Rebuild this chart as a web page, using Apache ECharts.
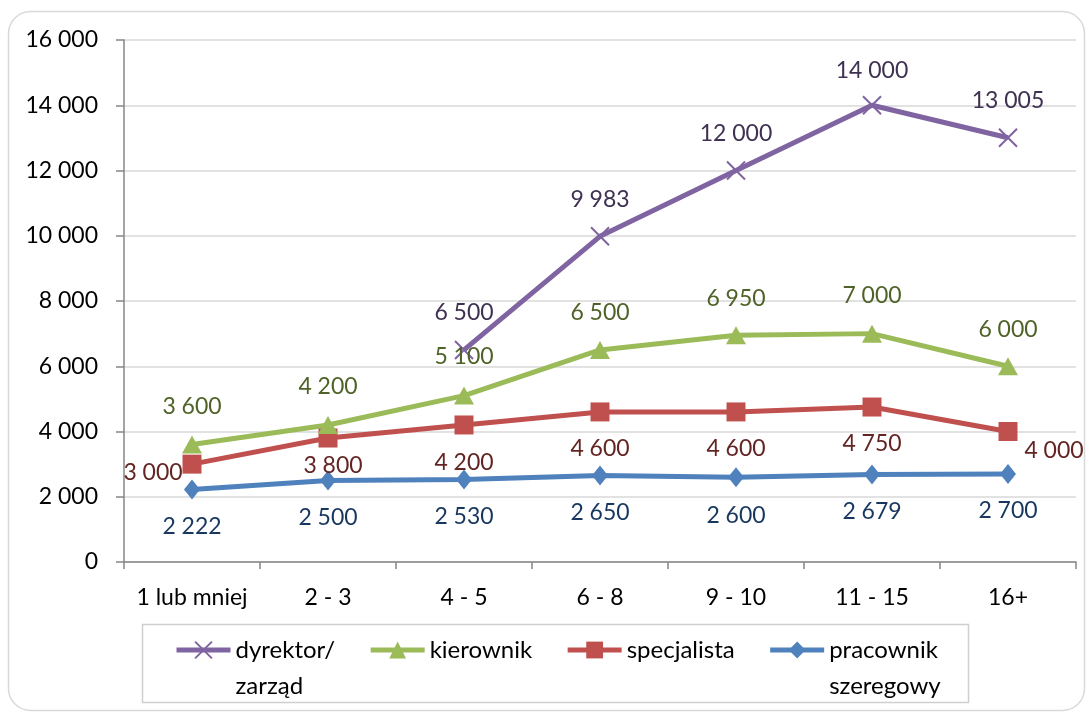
<!DOCTYPE html>
<html>
<head>
<meta charset="utf-8">
<script src="https://cdn.jsdelivr.net/npm/echarts@6/dist/echarts.min.js"></script>
<style>
html,body{margin:0;padding:0;background:#fff;}
#chart{width:1092px;height:716px;}
</style>
</head>
<body>
<div id="chart"></div>
<script>
const categories = ['1 lub mniej', '2 - 3', '4 - 5', '6 - 8', '9 - 10', '11 - 15', '16+'];
const seriesNames = ['dyrektor/ zarząd', 'kierownik', 'specjalista', 'pracownik szeregowy'];
const dyrektor = [null, null, 6500, 9983, 12000, 14000, 13005];
const kierownik = [3600, 4200, 5100, 6500, 6950, 7000, 6000];
const specjalista = [3000, 3800, 4200, 4600, 4600, 4750, 4000];
const pracownik = [2222, 2500, 2530, 2650, 2600, 2679, 2700];

// label offsets (style only)
const offDyr = [[0,-37],[0,-37],[0,-37],[0,-37],[0,-37],[0,-35],[0,-37]];
const offKier = [[0,-38],[0,-38],[0,-39],[0,-37],[0,-37],[0,-38],[0,-37]];
const offSpec = [[-39,8],[5,28],[0,38],[0,37],[0,37],[0,37],[46,19]];
const offPrac = [[0,37],[0,37],[0,37],[0,37],[0,38],[0,37],[0,37]];

const FONT = 'Lato';
function fmt(v) {
  return String(Math.round(v)).replace(/\B(?=(\d{3})+(?!\d))/g, ' ');
}
function withOffsets(vals, offs) {
  return vals.map((v, i) => v == null ? null : ({ value: v, label: { offset: offs[i] } }));
}
function mkSeries(name, vals, offs, color, labelColor, symbol, symbolSize, extraItem) {
  return {
    name: name,
    type: 'line',
    data: withOffsets(vals, offs),
    symbol: symbol,
    symbolSize: symbolSize,
    showAllSymbol: true,
    connectNulls: false,
    lineStyle: { color: color, width: 5 },
    itemStyle: Object.assign({ color: color }, extraItem || {}),
    label: {
      show: true,
      position: 'inside',
      formatter: p => fmt(p.value),
      color: labelColor,
      fontFamily: FONT,
      fontSize: 23
    },
    emphasis: { disabled: true },
    animation: false
  };
}

const chart = echarts.init(document.getElementById('chart'));
chart.setOption({
  backgroundColor: '#fff',
  animation: false,
  grid: { left: 124, right: 16, top: 40, bottom: 154, containLabel: false },
  graphic: [
    { type: 'rect', shape: { x: 8.5, y: 11.5, width: 1076, height: 699, r: 22 },
      style: { fill: 'none', stroke: '#D9D9D9', lineWidth: 1.5 }, silent: true, z: -10 },
    { type: 'rect', shape: { x: 142.5, y: 624.5, width: 826, height: 78 },
      style: { fill: 'none', stroke: '#CFCFCF', lineWidth: 1.5 }, silent: true, z: -10 }
  ],
  xAxis: {
    type: 'category',
    data: categories,
    boundaryGap: true,
    axisLine: { lineStyle: { color: '#868686', width: 1.5 } },
    axisTick: { show: true, length: 7, alignWithLabel: false, lineStyle: { color: '#868686', width: 1.5 } },
    axisLabel: { color: '#000', fontFamily: FONT, fontSize: 23, margin: 24, interval: 0 },
    splitLine: { show: false }
  },
  yAxis: {
    type: 'value',
    min: 0, max: 16000, interval: 2000,
    axisLine: { show: true, lineStyle: { color: '#868686', width: 1.5 } },
    axisTick: { show: true, length: 8, lineStyle: { color: '#868686', width: 1.5 } },
    axisLabel: { color: '#000', fontFamily: FONT, fontSize: 23, margin: 26, formatter: v => fmt(v) },
    splitLine: { lineStyle: { color: '#D9D9D9', width: 1.5 } }
  },
  legend: {
    left: 174,
    top: 596,
    padding: 0,
    orient: 'horizontal',
    itemGap: 33,
    itemWidth: 54,
    itemHeight: 21,
    lineStyle: { width: 5 },
    formatter: n => n.indexOf(' ') >= 0 ? ' \n' + n.replace(' ', '\n') : n,
    textStyle: { color: '#000', fontFamily: FONT, fontSize: 24, lineHeight: 36 },
    data: seriesNames.slice()
  },
  series: [
    mkSeries(seriesNames[3], pracownik, offPrac, '#4F81BD', '#17375E', 'diamond', [16, 20]),
    mkSeries(seriesNames[2], specjalista, offSpec, '#C0504D', '#632523', 'rect', 19),
    mkSeries(seriesNames[1], kierownik, offKier, '#9BBB59', '#4F6228', 'triangle', [20, 18]),
    mkSeries(seriesNames[0], dyrektor, offDyr, '#8064A2', '#3F3151', 'path://M0,0L20,20M20,0L0,20', 18,
      { borderColor: '#8064A2', borderWidth: 2 })
  ]
});
</script>
</body>
</html>
